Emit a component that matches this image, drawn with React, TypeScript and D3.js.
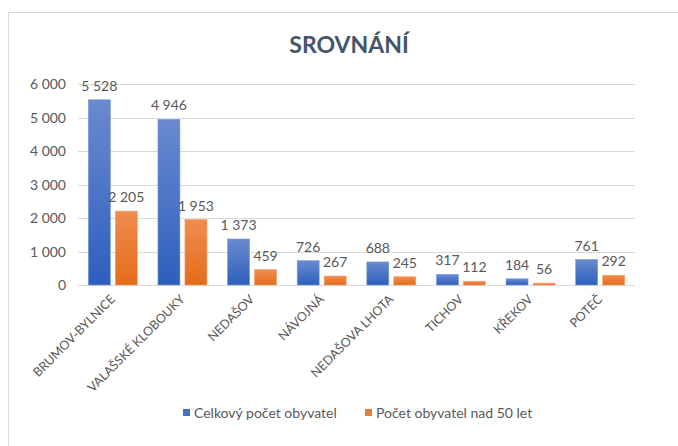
import React from "react";
import * as d3 from "d3";

const categories = ["BRUMOV-BYLNICE", "VALAŠSKÉ KLOBOUKY", "NEDAŠOV", "NÁVOJNÁ", "NEDAŠOVA LHOTA", "TICHOV", "KŘEKOV", "POTEČ"];
const totalPop = [5528, 4946, 1373, 726, 688, 317, 184, 761];
const over50 = [2205, 1953, 459, 267, 245, 112, 56, 292];
const yTicks = [0, 1000, 2000, 3000, 4000, 5000, 6000];
const seriesNames = ["Celkový počet obyvatel", "Počet obyvatel nad 50 let"];
const title = "SROVNÁNÍ";

const W = 678, H = 446;
const plot = { left: 78, right: 635, top: 84, bottom: 285 };
const FONT = "Lato, 'Open Sans', sans-serif";
const fmt = (v: number) => d3.format(",")(v).replace(/,/g, " ");

export default function App() {
  const x = d3.scaleBand<string>().domain(categories).range([plot.left, plot.right]).paddingInner(0).paddingOuter(0);
  const y = d3.scaleLinear().domain([0, 6000]).range([plot.bottom, plot.top]);
  const barW = 22, gap = 5;
  const series = [
    { name: seriesNames[0], values: totalPop, grad: "gBlue", sw: "#4472c4" },
    { name: seriesNames[1], values: over50, grad: "gOrange", sw: "#ed7d31" },
  ];
  const offs = [-(barW + gap / 2), gap / 2];
  return (
    <div style={{ position: "fixed", left: 0, top: 0 }}>
      <svg width={W} height={H} style={{ display: "block", background: "#fff" }} fontFamily={FONT}>
        <defs>
          <linearGradient id="gBlue" x1="0" y1="0" x2="0" y2="1">
            <stop offset="0" stopColor="#6a8ad0" />
            <stop offset="1" stopColor="#2d5fbd" />
          </linearGradient>
          <linearGradient id="gOrange" x1="0" y1="0" x2="0" y2="1">
            <stop offset="0" stopColor="#f08c50" />
            <stop offset="1" stopColor="#e46c1a" />
          </linearGradient>
        </defs>
        <rect x={8.5} y={12.5} width={720} height={480} fill="#fff" stroke="#d9d9d9" />
        <text x={349} y={53} textAnchor="middle" fontSize={23} fontWeight="bold" fill="#44546a">{title}</text>
        {yTicks.map((t) => (
          <g key={t}>
            <line x1={plot.left} x2={plot.right} y1={Math.round(y(t)) + 0.5} y2={Math.round(y(t)) + 0.5} stroke="#d9d9d9" />
            <text x={66} y={y(t) + 5} textAnchor="end" fontSize={14} fill="#595959">{fmt(t)}</text>
          </g>
        ))}
        {series.map((s, si) => (
          <g key={s.name}>
            {categories.map((c, i) => {
              const cx = (x(c) as number) + x.bandwidth() / 2;
              const bx = cx + offs[si];
              const top = y(s.values[i]);
              return (
                <g key={c}>
                  <rect x={bx} y={top} width={barW} height={plot.bottom - top} fill={`url(#${s.grad})`} stroke={si === 0 ? "#7d9ad8" : "#f3a06c"} strokeWidth={0.6} />
                  <text x={bx + barW / 2} y={top - 9} textAnchor="middle" fontSize={14} fill="#595959">{fmt(s.values[i])}</text>
                </g>
              );
            })}
          </g>
        ))}
        {categories.map((c) => {
          const cx = (x(c) as number) + x.bandwidth() / 2;
          return (
            <text key={c} transform={`translate(${cx + 3},${300}) rotate(-45)`} textAnchor="end" fontSize={12.5} fill="#595959">{c}</text>
          );
        })}
        <g>
          <rect x={183} y={409} width={7} height={7} fill="#4472c4" />
          <text x={194} y={418} fontSize={14} fill="#595959">{seriesNames[0]}</text>
          <rect x={365} y={409} width={7} height={7} fill="#ed7d31" />
          <text x={376} y={418} fontSize={14} fill="#595959">{seriesNames[1]}</text>
        </g>
      </svg>
    </div>
  );
}
